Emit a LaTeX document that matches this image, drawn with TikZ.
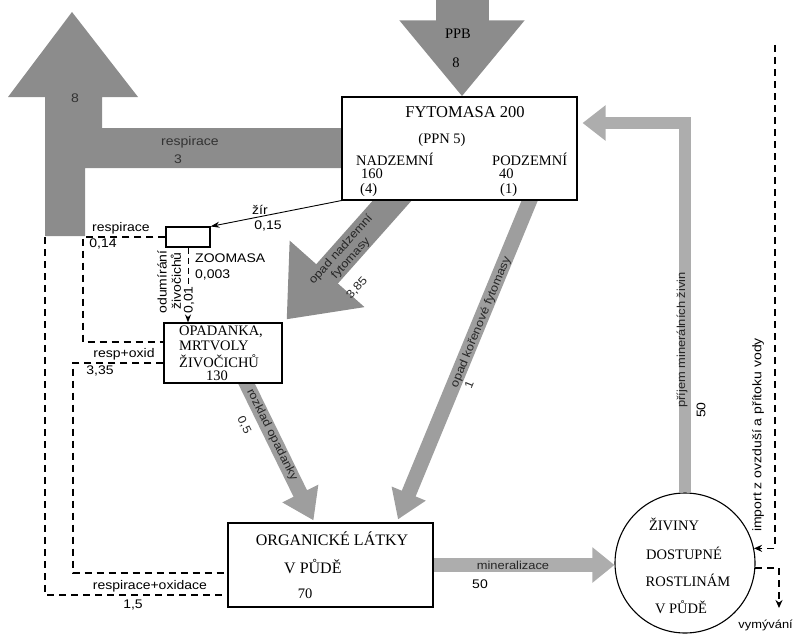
\documentclass[tikz,border=0pt]{standalone}
\usepackage{fontspec}
\setmainfont{Liberation Serif}
\newfontfamily\lblfont[FakeStretch=1.12]{Liberation Sans}
\usepackage{xcolor}
\usetikzlibrary{arrows.meta}
\usetikzlibrary{calc}
\usetikzlibrary{backgrounds}
\definecolor{flow_dark}{gray}{0.55}
\definecolor{flow_mid}{gray}{0.62}
\definecolor{flow_light}{gray}{0.68}
\tikzset{ pool_box/.style = {rectangle, draw, line width=1.1pt, fill=white, inner sep=0pt} }
\tikzset{ pool_txt/.style = {font=\fontsize{14.5}{16}\selectfont, inner sep=0pt} }
\tikzset{ lbl/.style = {font=\lblfont\fontsize{12.5}{14}\selectfont, inner sep=0pt} }
\tikzset{ flow_txt/.style = {font=\lblfont\fontsize{11.5}{13}\selectfont, inner sep=0pt, text=black!85, align=center} }
\tikzset{ dash_line/.style = {line width=1.6pt, dash pattern=on 7pt off 5pt} }

\begin{document}
\begin{tikzpicture}[x=1pt,y=-1pt]
\useasboundingbox (0,0) rectangle (794,634);

% pools
\node [style=pool_box, minimum width=235pt, minimum height=103pt] (F) at (459.5,148.5) {};
\node [style=pool_box, minimum width=44pt, minimum height=20pt] (Z) at (188,237) {};
\node [style=pool_box, minimum width=118pt, minimum height=60pt] (O) at (223,353) {};
\node [style=pool_box, minimum width=205pt, minimum height=84pt] (G) at (330.5,565) {};
\node [circle, draw, line width=1.1pt, fill=white, minimum size=140pt, inner sep=0pt] (C) at (685,563) {};

% grey flows
\begin{scope}[on background layer]
\fill[flow_dark] (45,236) -- (45,97) -- (8,97) -- (72,12) -- (138,97) -- (102,97) -- (102,128)
      -- (350,128) -- (350,168) -- (85,168) -- (85,236) -- cycle;
\coordinate (ppb) at (462,0);
\draw[flow_dark, line width=53pt, -{Triangle[width=120pt,length=76pt]}] (ppb) -- (ppb |- F.north);
\draw[flow_dark, line width=29pt, -{Triangle[width=96pt,length=61pt]}] ($(F.south)+(-49.5,-20)$) -- ($(O.north east)+(4,-3)$);
\draw[flow_mid, line width=15pt, -{Triangle[width=38pt,length=30pt]}] ($(O.south)+(20,-7)$) -- ($(G.north)+(-17,-2)$);
\draw[flow_mid, line width=15pt, -{Triangle[width=35pt,length=28pt]}] ($(F.south)+(76,-14)$) -- ($(G.north)+(67.5,-3)$);
\draw[flow_light, line width=14pt, -{Triangle[width=34pt,length=22pt]}] (G.east) -- (G.east -| C.west);
\draw[flow_light, line width=12pt, line join=miter, -{Triangle[width=34pt,length=23pt]}] (C.north) |- ($(F.east)+(5,-25.5)$);
\end{scope}

% pool texts
\node [style=pool_txt, font=\fontsize{16.5}{18}\selectfont] (F1) at (465,112) {FYTOMASA 200};
\node [style=pool_txt] (F2) at (442,140) {(PPN 5)};
\node [style=pool_txt, anchor=west] (F3) at (356,159) {NADZEMNÍ};
\node [style=pool_txt, anchor=west] (F4) at (361,174) {160};
\node [style=pool_txt, anchor=west] (F5) at (360,190) {(4)};
\node [style=pool_txt, anchor=west] (F6) at (492,159) {PODZEMNÍ};
\node [style=pool_txt, anchor=west] (F7) at (499,174) {40};
\node [style=pool_txt, anchor=west] (F8) at (500,190) {(1)};
\node [style=pool_txt, anchor=west] (O1) at (179,332) {OPADANKA,};
\node [style=pool_txt, anchor=west] (O2) at (179,346) {MRTVOLY};
\node [style=pool_txt, anchor=west] (O3) at (179,361) {ŽIVOČICHŮ};
\node [style=pool_txt] (O4) at (217,376) {130};
\node [style=pool_txt, font=\fontsize{16}{18}\selectfont] (G1) at (332,539) {ORGANICKÉ LÁTKY};
\node [style=pool_txt, font=\fontsize{16}{18}\selectfont, anchor=west] (G2) at (284,567) {V PŮDĚ};
\node [style=pool_txt] (G3) at (305,594) {70};
\node [style=pool_txt] (C1) at (674,524) {ŽIVINY};
\node [style=pool_txt] (C2) at (684,553) {DOSTUPNÉ};
\node [style=pool_txt] (C3) at (688,580) {ROSTLINÁM};
\node [style=pool_txt] (C4) at (681,607) {V PŮDĚ};

% flow labels
\node [style=pool_txt] (P1) at (458,34) {PPB};
\node [style=pool_txt] (P2) at (456,63) {8};
\node [style=lbl, text=black!80] (R0) at (75,98) {8};
\node [style=lbl, text=black!80] (R1) at (190,142) {respirace};
\node [style=lbl, text=black!80] (R2) at (178,159) {3};
\node [style=flow_txt, rotate=48] (N1) at (346,254) {opad nadzemní\\fytomasy};
\node [style=flow_txt, rotate=48] (N2) at (357,288) {3,85};
\node [style=flow_txt, rotate=-63.6] (K1) at (272,435) {rozklad opadanky};
\node [style=flow_txt, rotate=-63.6] (K2) at (244,425) {0,5};
\node [style=flow_txt, rotate=67.6] (D1) at (481,322) {opad kořenové fytomasy};
\node [style=flow_txt, rotate=67.6] (D2) at (469,385) {1};
\node [style=flow_txt] (M1) at (513,565) {mineralizace};
\node [style=lbl] (M2) at (480,584) {50};
\node [style=flow_txt, rotate=90] (J1) at (682,340) {příjem minerálních živin};
\node [style=lbl, rotate=90] (J2) at (701,410) {50};

% small flows
\draw[line width=0.9pt, -{Stealth[length=9pt,width=6pt]}] (F.south west) -- (Z.north east);
\node [style=lbl] (Z1) at (260,210) {žír};
\node [style=lbl] (Z2) at (268,226) {0,15};
\node [style=lbl, anchor=west] (Z3) at (195,258) {ZOOMASA};
\node [style=lbl, anchor=west] (Z4) at (195,275) {0,003};
\draw[line width=1pt, dash pattern=on 6pt off 4pt, -{Stealth[length=8pt,width=6pt]}] (Z.south) -- (Z.south |- O.north);
\node [style=lbl, rotate=90] (Z5) at (162,282) {odumírání};
\node [style=lbl, rotate=90] (Z6) at (176,281) {živočichů};
\node [style=lbl, rotate=90, fill=white] (Z7) at (189,300) {0,01};

% respiration
\coordinate (rb) at (83,237);
\coordinate (lb) at (45,237);
\draw[dash_line] (Z.west) -- (rb) -- (rb |- 0,342) -- ($(O.west)+(0,-11)$);
\draw[dash_line] ($(O.west)+(0,10)$) -- (73,363) -- (73,573) -- ($(G.west)+(0,8)$);
\draw[dash_line] (lb) -- (45,595) -- ($(G.west)+(0,30)$);
\node [style=lbl] (S1) at (121,228) {respirace};
\node [style=lbl] (S2) at (103,244) {0,14};
\node [style=lbl] (S3) at (124,354) {resp+oxid};
\node [style=lbl] (S4) at (100,371) {3,35};
\node [style=lbl] (S5) at (150,586) {respirace+oxidace};
\node [style=lbl] (S6) at (133,605) {1,5};

% import and leaching
\coordinate (imp) at (775,45);
\draw[dash_line, -{Stealth[length=8pt,width=7pt]}] (imp) |- (C.12);
\node [style=lbl, rotate=90] (I1) at (758,435) {import z ovzduší a přítoku vody};
\coordinate (vy) at (779,608);
\draw[dash_line, -{Stealth[length=8pt,width=7pt]}] (C.-4) -| (vy);
\node [style=lbl, font=\lblfont\fontsize{11.5}{13}\selectfont, anchor=east] (V1) at (793,625) {vymývání};
\end{tikzpicture}
\end{document}
